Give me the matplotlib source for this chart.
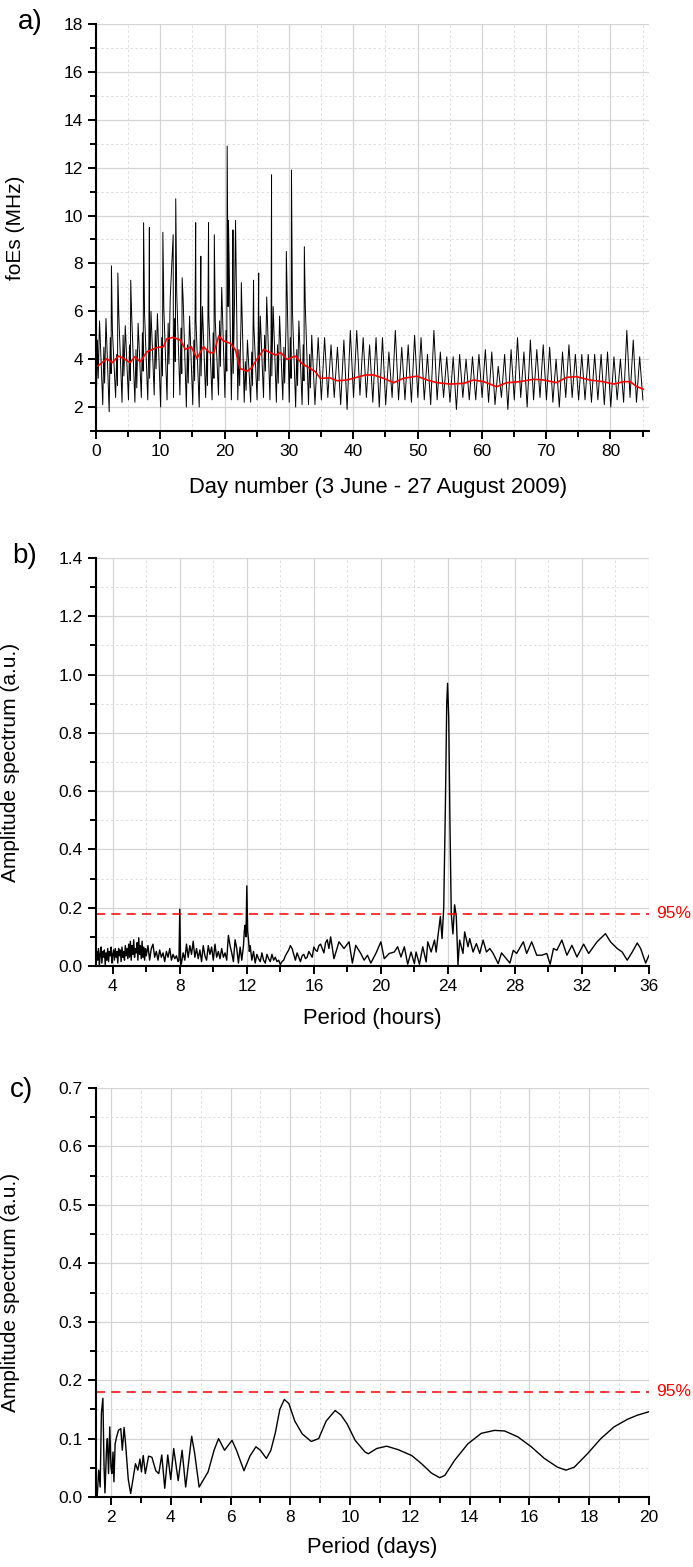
import numpy as np
import matplotlib.pyplot as plt
from matplotlib.ticker import MultipleLocator, FormatStrFormatter

plt.rcParams['font.family'] = ['Liberation Sans', 'DejaVu Sans']

# ---------------- a) foEs, read per day from the picture ----------------
day_trough = [2.3, 2.1, 1.8, 2.4, 2.2, 2.3, 2.2, 2.4, 2.3, 2.5,
              2.0, 2.3, 2.4, 2.5, 2.0, 2.1, 2.0, 2.4, 2.3, 2.5,
              2.4, 2.3, 2.3, 2.2, 2.2, 2.3, 2.4, 2.3, 2.2, 2.3,
              2.2, 2.0, 2.1, 2.1, 2.1, 2.3, 2.4, 2.4, 2.1, 1.9,
              2.4, 2.5, 2.4, 2.2, 2.0, 2.1, 2.4, 2.3, 2.3, 2.2,
              2.4, 2.3, 2.1, 2.3, 2.4, 2.2, 1.9, 2.4, 2.3, 2.3,
              2.4, 2.2, 2.1, 2.4, 1.9, 2.3, 2.4, 2.0, 2.3, 2.4,
              2.3, 2.2, 2.0, 2.4, 2.4, 2.3, 2.3, 2.2, 2.3, 2.1,
              2.0, 2.3, 2.2, 2.4, 2.2, 2.3]
day_peak = [5.6, 5.7, 5.2, 5.8, 5.4, 5.8, 5.5, 5.9, 6.0, 5.9,
            6.1, 6.6, 6.8, 6.5, 5.8, 5.6, 6.2, 5.8, 5.6, 7.0,
            6.2, 6.5, 5.6, 4.8, 5.4, 5.8, 6.6, 6.2, 5.8, 5.4,
            6.0, 5.6, 6.2, 5.0, 4.9, 4.9, 4.6, 4.5, 4.8, 5.2,
            5.2, 4.9, 4.6, 4.9, 4.9, 4.3, 5.2, 4.5, 4.6, 5.0,
            4.9, 4.2, 5.2, 4.3, 4.1, 4.1, 4.2, 4.0, 4.1, 4.2,
            4.4, 4.3, 3.7, 4.2, 4.4, 4.9, 4.3, 4.8, 4.4, 4.6,
            4.5, 4.0, 4.3, 4.6, 4.2, 4.2, 4.2, 4.2, 4.2, 4.3,
            4.1, 4.0, 5.2, 4.8, 4.1]
# secondary oscillation during the disturbed first 34 days
sub_peak = [4.8, 4.5, 4.9, 4.2, 5.0, 4.6, 4.4, 5.1, 4.7, 5.2,
            4.9, 5.5, 5.7, 5.3, 4.6, 4.8, 5.0, 4.4, 5.1, 5.6,
            5.2, 5.0, 4.4, 3.9, 4.3, 4.7, 5.0, 4.8, 4.6, 4.5,
            4.9, 4.4, 4.6, 4.2]
sub_trough = [3.2, 3.0, 3.4, 2.9, 3.3, 3.1, 2.8, 3.5, 3.2, 3.6,
              3.3, 3.8, 3.9, 3.4, 3.0, 3.1, 3.3, 2.9, 3.2, 3.7,
              3.5, 3.4, 2.9, 2.7, 2.9, 3.1, 3.5, 3.3, 3.0, 3.0,
              3.2, 2.9, 3.1, 2.8]
spike_day = [2.4, 3.4, 5.4, 7.4, 8.3, 10.4, 12.0, 12.4, 13.4, 15.5, 16.3, 17.5,
             18.4, 20.4, 20.6, 21.3, 21.7, 22.6, 24.5, 25.3, 27.3, 29.6, 30.4, 32.4]
spike_val = [7.9, 7.6, 7.3, 9.7, 9.5, 9.3, 9.2, 10.7, 7.4, 9.7, 8.3, 9.7,
             9.2, 12.9, 9.8, 9.4, 9.8, 7.2, 7.3, 7.6, 11.7, 8.5, 11.9, 8.7]
mean_day = [0, 0.7, 1.7, 2.5, 3.5, 4.3, 5.3, 6.0, 6.9, 7.9,
            9.5, 10.5, 11.0, 12.0, 13.1, 13.9, 14.8, 15.7, 16.7, 17.7,
            18.3, 19.1, 19.8, 20.9, 21.7, 22.4, 23.5, 24.2, 25.0, 26.1,
            26.8, 27.9, 28.7, 29.7, 31.0, 32.0, 33.3, 34.1, 34.9, 36.4,
            37.5, 39.0, 41.9, 43.2, 44.7, 46.3, 47.8, 49.9, 51.5, 53.0,
            55.1, 57.2, 58.7, 60.3, 62.3, 63.9, 65.9, 68.0, 69.6, 71.6,
            73.2, 74.7, 76.8, 78.9, 80.5, 82.0, 83.1, 84.1, 85.1]
mean_val = [3.67, 3.80, 4.02, 3.85, 4.13, 4.03, 3.85, 4.10, 3.89, 4.31,
            4.49, 4.52, 4.85, 4.91, 4.80, 4.41, 4.52, 4.03, 4.52, 4.27,
            4.27, 4.97, 4.77, 4.66, 4.38, 3.61, 3.50, 3.64, 3.99, 4.41,
            4.31, 4.17, 4.28, 3.99, 4.13, 3.82, 3.61, 3.48, 3.20, 3.22,
            3.10, 3.13, 3.34, 3.34, 3.20, 3.02, 3.20, 3.29, 3.13, 3.02,
            2.96, 2.99, 3.13, 3.06, 2.85, 3.02, 3.06, 3.16, 3.13, 3.02,
            3.24, 3.27, 3.13, 3.06, 2.96, 3.06, 3.06, 2.85, 2.75]

# ---------------- b) spectrum vs period (hours) ----------------
noise1_amp = [0.01, 0.05, 0.02, 0.06, 0.00, 0.04, 0.065, 0.01, 0.05, 0.03,
              0.055, 0.005, 0.045, 0.02, 0.06, 0.015, 0.05, 0.035, 0.065, 0.01,
              0.04, 0.055, 0.02, 0.06, 0.03, 0.05, 0.01, 0.06, 0.035, 0.055,
              0.015, 0.065, 0.03, 0.05, 0.02, 0.07, 0.035, 0.06, 0.025, 0.075,
              0.03, 0.085, 0.02, 0.07, 0.04, 0.09, 0.03, 0.06, 0.045, 0.08,
              0.02, 0.097, 0.04, 0.07, 0.025, 0.085, 0.03, 0.065, 0.02, 0.06]
noise2_amp = [0.035, 0.07, 0.02, 0.06, 0.075, 0.03, 0.05, 0.02, 0.055, 0.03,
              0.045, 0.015, 0.05, 0.03, 0.06, 0.02, 0.04, 0.025, 0.035, 0.015]
peak8_per = [7.95, 8.0, 8.05]
peak8_amp = [0.02, 0.195, 0.005]
noise3_amp = [0.01, 0.045, 0.02, 0.075, 0.03, 0.07, 0.04, 0.085, 0.03, 0.06,
              0.025, 0.055, 0.015, 0.07, 0.035, 0.02, 0.07, 0.04, 0.065, 0.02,
              0.075, 0.03, 0.05, 0.025, 0.06, 0.03, 0.045, 0.02, 0.105, 0.07,
              0.045, 0.015, 0.09, 0.06, 0.01, 0.065, 0.02, 0.07]
peak12_per = [11.85, 11.9, 11.95, 12.0, 12.05, 12.1, 12.15]
peak12_amp = [0.12, 0.14, 0.10, 0.275, 0.12, 0.09, 0.05]
noise4_amp = [0.07, 0.02, 0.05, 0.01, 0.04, 0.025, 0.015, 0.045, 0.02, 0.01,
              0.04, 0.025, 0.015, 0.04, 0.02, 0.03, 0.015, 0.02, 0.005, 0.015,
              0.02, 0.035, 0.045, 0.055, 0.07, 0.06, 0.04, 0.02, 0.045, 0.03,
              0.015, 0.035, 0.04, 0.025, 0.03, 0.05, 0.04, 0.03, 0.065, 0.055,
              0.05, 0.07, 0.075, 0.06, 0.045, 0.08, 0.09, 0.06]
long_per = [17.0, 17.2, 17.5, 17.8, 18.1, 18.3, 18.5, 18.8, 19.0, 19.2, 19.4, 19.7,
            20.0, 20.2, 20.5, 20.8, 21.0, 21.2, 21.4, 21.6, 21.8, 22.0, 22.1, 22.3,
            22.5, 22.7, 22.8, 23.0, 23.2, 23.3, 23.4, 23.55, 23.65, 23.75, 23.85,
            23.93, 23.98, 24.05, 24.12, 24.2, 24.3, 24.4, 24.5, 24.6, 24.7, 24.9,
            25.0, 25.2, 25.3, 25.5, 25.7, 25.9, 26.1, 26.3, 26.5, 26.7, 27.0, 27.2,
            27.4, 27.7, 27.9, 28.1, 28.5, 28.7, 29.0, 29.3, 29.6, 29.9, 30.1, 30.3,
            30.5, 30.8, 31.1, 31.4, 31.7, 32.1, 32.4, 32.9, 33.4, 33.7, 34.1, 34.4,
            34.7, 35.0, 35.3, 35.5, 35.8, 36.0]
long_amp = [0.10, 0.025, 0.083, 0.06, 0.083, 0.01, 0.071, 0.043, 0.02, 0.037, 0.01, 0.043,
            0.083, 0.025, 0.043, 0.048, 0.066, 0.031, 0.066, 0.006, 0.048, 0.008, 0.048, 0.006,
            0.066, 0.014, 0.083, 0.048, 0.089, 0.048, 0.10, 0.17, 0.094, 0.20, 0.55,
            0.90, 0.97, 0.85, 0.50, 0.18, 0.11, 0.21, 0.17, 0.005, 0.089, 0.043,
            0.117, 0.066, 0.094, 0.048, 0.077, 0.043, 0.089, 0.048, 0.06, 0.043, 0.008, 0.045,
            0.031, 0.01, 0.054, 0.043, 0.083, 0.043, 0.083, 0.037, 0.037, 0.043, 0.006, 0.06,
            0.054, 0.089, 0.037, 0.071, 0.031, 0.075, 0.043, 0.083, 0.111, 0.083, 0.06, 0.048,
            0.02, 0.048, 0.079, 0.06, 0.01, 0.037]

# ---------------- c) spectrum vs period (days) ----------------
c_per = [1.54, 1.59, 1.64, 1.68, 1.73, 1.77, 1.80, 1.85, 1.88, 1.92, 1.96, 2.00,
         2.03, 2.07, 2.10, 2.14, 2.19, 2.25, 2.33, 2.38, 2.44, 2.49, 2.52, 2.58,
         2.66, 2.74, 2.82, 2.90, 2.97, 3.02, 3.08, 3.15, 3.26, 3.37, 3.5, 3.6,
         3.7, 3.8, 3.9, 4.0, 4.1, 4.25, 4.38, 4.5, 4.6, 4.7, 4.8, 4.95,
         5.1, 5.25, 5.45, 5.6, 5.8, 6.05, 6.2, 6.45, 6.65, 6.85, 7.0, 7.2,
         7.35, 7.5, 7.65, 7.8, 7.95, 8.15, 8.4, 8.7, 8.95, 9.2, 9.5, 9.7,
         9.9, 10.17, 10.5, 10.61, 10.89, 11.22, 11.61, 12.06, 12.39, 12.72, 13.0, 13.17,
         13.5, 13.94, 14.39, 14.83, 15.17, 15.61, 16.06, 16.5, 16.94, 17.22, 17.5, 17.94,
         18.39, 18.83, 19.28, 19.61, 20.0]
c_amp = [0.0, 0.046, 0.017, 0.143, 0.169, 0.051, 0.007, 0.08, 0.10, 0.04, 0.12, 0.051,
         0.04, 0.077, 0.026, 0.091, 0.103, 0.114, 0.117, 0.08, 0.119, 0.091, 0.07, 0.03,
         0.006, 0.031, 0.057, 0.046, 0.065, 0.043, 0.071, 0.04, 0.07, 0.068, 0.045, 0.04,
         0.072, 0.015, 0.072, 0.03, 0.083, 0.028, 0.08, 0.017, 0.06, 0.104, 0.075, 0.017,
         0.03, 0.043, 0.08, 0.10, 0.08, 0.097, 0.08, 0.045, 0.07, 0.086, 0.08, 0.066,
         0.08, 0.11, 0.15, 0.167, 0.16, 0.13, 0.108, 0.095, 0.10, 0.13, 0.148, 0.14,
         0.125, 0.097, 0.077, 0.074, 0.083, 0.087, 0.081, 0.071, 0.057, 0.041, 0.033, 0.037,
         0.063, 0.091, 0.109, 0.114, 0.113, 0.103, 0.086, 0.066, 0.051, 0.046, 0.051, 0.074,
         0.10, 0.12, 0.133, 0.14, 0.146]

level95 = 0.18

# build the foEs trace from the daily readings
t, v = [], []
for d in range(len(day_trough)):
    t.append(d + 0.05)
    v.append(day_trough[d])
    if d < len(sub_peak):
        t += [d + 0.22, d + 0.34]
        v += [sub_peak[d], sub_trough[d]]
    if d < len(day_peak):
        t.append(d + 0.55)
        v.append(day_peak[d])
t += spike_day
v += spike_val
order = np.argsort(t)
t = np.array(t)[order]
v = np.array(v)[order]

b_per = np.concatenate([np.arange(3.0, 5.99, 0.05), np.arange(6.0, 7.95, 0.1), peak8_per,
                        np.arange(8.1, 11.82, 0.1), peak12_per, np.arange(12.2, 16.95, 0.1),
                        long_per])
b_amp = np.concatenate([noise1_amp, noise2_amp, peak8_amp, noise3_amp, peak12_amp,
                        noise4_amp, long_amp])

fig = plt.figure(figsize=(6.93, 15.67), dpi=100)
W, H = 693, 1567


def make_axes(top, bottom):
    return fig.add_axes([96 / W, 1 - bottom / H, 553 / W, (bottom - top) / H])


def style(ax, xmaj, xmin, ymaj, ymin):
    ax.xaxis.set_major_locator(MultipleLocator(xmaj))
    ax.xaxis.set_minor_locator(MultipleLocator(xmin))
    ax.yaxis.set_major_locator(MultipleLocator(ymaj))
    ax.yaxis.set_minor_locator(MultipleLocator(ymin))
    for s in ['top', 'right']:
        ax.spines[s].set_visible(False)
    for s in ['left', 'bottom']:
        ax.spines[s].set_linewidth(1.5)
    ax.tick_params(which='major', direction='out', length=6, width=1.4, labelsize=12.5)
    ax.tick_params(which='minor', direction='out', length=4, width=1.4)
    ax.grid(which='major', color='#d4d4d4', lw=0.9, ls='-')
    ax.grid(which='minor', color='#dedede', lw=0.7, ls=(0, (2.5, 2.5)))
    ax.set_axisbelow(True)


# a)
ax1 = make_axes(24, 431)
ax1.plot(t, v, color='black', lw=0.7)
ax1.plot(mean_day, mean_val, color='red', lw=1.2)
ax1.set_xlim(0, 86)
ax1.set_ylim(1, 18)
style(ax1, 10, 5, 2, 1)
ax1.set_ylabel('foEs (MHz)', fontsize=15)
ax1.set_xlabel('Day number (3 June - 27 August 2009)', fontsize=15.8)
ax1.yaxis.set_label_coords(-0.128, 0.5)
ax1.xaxis.set_label_coords(0.51, -0.113)

# b)
ax2 = make_axes(558, 966)
ax2.plot(b_per, b_amp, color='black', lw=1.0)
ax2.axhline(level95, color='red', lw=1.1, ls=(0, (6, 4)))
ax2.text(1.012, level95, '95%', transform=ax2.get_yaxis_transform(), color='red',
         fontsize=12.5, va='center', ha='left')
ax2.set_xlim(3, 36)
ax2.set_ylim(0, 1.4)
style(ax2, 4, 2, 0.2, 0.1)
ax2.yaxis.set_major_formatter(FormatStrFormatter('%.1f'))
ax2.set_ylabel('Amplitude spectrum (a.u.)', fontsize=15)
ax2.set_xlabel('Period (hours)', fontsize=15.8)
ax2.yaxis.set_label_coords(-0.137, 0.5)
ax2.xaxis.set_label_coords(0.5, -0.103)

# c)
ax3 = make_axes(1088, 1497)
ax3.plot(c_per, c_amp, color='black', lw=1.0)
ax3.axhline(level95, color='red', lw=1.1, ls=(0, (6, 4)))
ax3.text(1.012, level95, '95%', transform=ax3.get_yaxis_transform(), color='red',
         fontsize=12.5, va='center', ha='left')
ax3.set_xlim(1.5, 20)
ax3.set_ylim(0, 0.7)
style(ax3, 2, 1, 0.1, 0.05)
ax3.yaxis.set_major_formatter(FormatStrFormatter('%.1f'))
ax3.set_ylabel('Amplitude spectrum (a.u.)', fontsize=15)
ax3.set_xlabel('Period (days)', fontsize=15.8)
ax3.yaxis.set_label_coords(-0.137, 0.5)
ax3.xaxis.set_label_coords(0.5, -0.098)

fig.text(18 / W, 1 - 22 / H, 'a)', fontsize=20, va='center', ha='left')
fig.text(12 / W, 1 - 556 / H, 'b)', fontsize=20, va='center', ha='left')
fig.text(10 / W, 1 - 1090 / H, 'c)', fontsize=20, va='center', ha='left')

fig.savefig('out.png', dpi=100)
